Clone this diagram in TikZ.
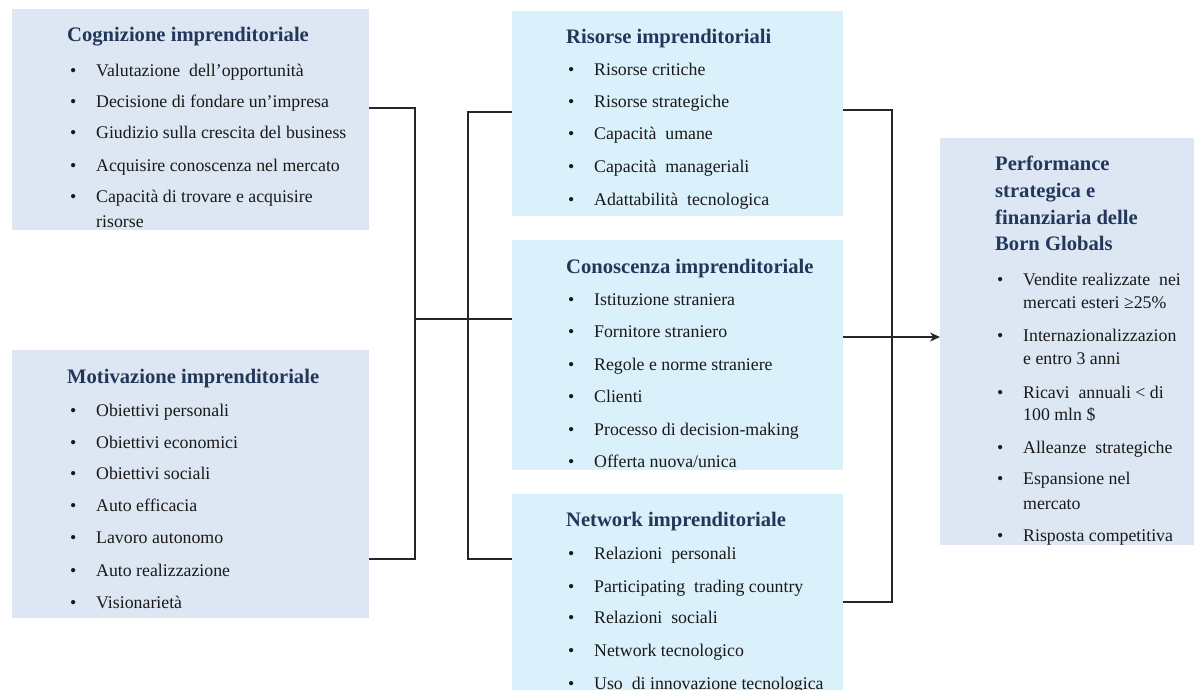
\documentclass[tikz,border=0pt]{standalone}
\usepackage{fontspec}
\setmainfont{Liberation Serif}
\usetikzlibrary{arrows.meta}
\definecolor{boxA}{HTML}{DCE7F3}
\definecolor{boxB}{HTML}{DAF0FA}
\definecolor{ttlc}{HTML}{23375A}
\newcommand\bul[1]{\makebox[26pt][l]{•}#1}
\tikzset{
  boxa/.style={fill=boxA, draw=none, anchor=north west, inner sep=0pt, outer sep=0pt},
  boxb/.style={fill=boxB, draw=none, anchor=north west, inner sep=0pt, outer sep=0pt},
  ttl/.style={anchor=base west, inner sep=0pt, font=\fontsize{20.6}{24}\selectfont\bfseries, text=ttlc},
  itm/.style={anchor=base west, inner sep=0pt, font=\fontsize{17.8}{21}\selectfont, text=black!90},
  conn/.style={line width=1.5pt, draw=black!85},
}
\begin{document}
\begin{tikzpicture}[x=1pt,y=-1pt]
\fill[white] (0,0) rectangle (1194,690);
\useasboundingbox (0,0) rectangle (1194,690);

% boxes
\node[boxa, minimum width=357, minimum height=221] (cog) at (12,9) {};
\node[boxa, minimum width=357, minimum height=268] (mot) at (12,350) {};
\node[boxb, minimum width=331, minimum height=205] (ris) at (512,11) {};
\node[boxb, minimum width=331, minimum height=230] (con) at (512,240) {};
\node[boxb, minimum width=331, minimum height=210] (net) at (512,494) {};
\node[boxa, minimum width=254, minimum height=407] (perf) at (940,138) {};

% Cognizione
\node[ttl] (cogt) at (67,42) {Cognizione imprenditoriale};
\node[itm] (cog1) at (70,76.5) {\bul{Valutazione\ \ dell’opportunità}};
\node[itm] (cog2) at (70,107.5) {\bul{Decisione di fondare un’impresa}};
\node[itm] (cog3) at (70,138.5) {\bul{Giudizio sulla crescita del business}};
\node[itm] (cog4) at (70,171.5) {\bul{Acquisire conoscenza nel mercato}};
\node[itm] (cog5) at (70,202.5) {\bul{Capacità di trovare e acquisire}};
\node[itm] (cog6) at (96,227.5) {risorse};

% Motivazione
\node[ttl] (mott) at (67,383) {Motivazione imprenditoriale};
\node[itm] (mot1) at (70,416) {\bul{Obiettivi personali}};
\node[itm] (mot2) at (70,448) {\bul{Obiettivi economici}};
\node[itm] (mot3) at (70,479) {\bul{Obiettivi sociali}};
\node[itm] (mot4) at (70,511) {\bul{Auto efficacia}};
\node[itm] (mot5) at (70,543) {\bul{Lavoro autonomo}};
\node[itm] (mot6) at (70,576) {\bul{Auto realizzazione}};
\node[itm] (mot7) at (70,608) {\bul{Visionarietà}};

% Risorse
\node[ttl] (rist) at (566,44) {Risorse imprenditoriali};
\node[itm] (ris1) at (568,76) {\bul{Risorse critiche}};
\node[itm] (ris2) at (568,108) {\bul{Risorse strategiche}};
\node[itm] (ris3) at (568,140) {\bul{Capacità\ \ umane}};
\node[itm] (ris4) at (568,172) {\bul{Capacità\ \ manageriali}};
\node[itm] (ris5) at (568,205) {\bul{Adattabilità\ \ tecnologica}};

% Conoscenza
\node[ttl] (cont) at (566,273) {Conoscenza imprenditoriale};
\node[itm] (con1) at (568,305) {\bul{Istituzione straniera}};
\node[itm] (con2) at (568,337) {\bul{Fornitore straniero}};
\node[itm] (con3) at (568,370) {\bul{Regole e norme straniere}};
\node[itm] (con4) at (568,402) {\bul{Clienti}};
\node[itm] (con5) at (568,435) {\bul{Processo di decision-making}};
\node[itm] (con6) at (568,467) {\bul{Offerta nuova/unica}};

% Network
\node[ttl] (nett) at (566,526) {Network imprenditoriale};
\node[itm] (net1) at (568,559) {\bul{Relazioni\ \ personali}};
\node[itm] (net2) at (568,592) {\bul{Participating\ \ trading country}};
\node[itm] (net3) at (568,623) {\bul{Relazioni\ \ sociali}};
\node[itm] (net4) at (568,656) {\bul{Network tecnologico}};
\node[itm] (net5) at (568,689) {\bul{Uso\ \ di innovazione tecnologica}};

% Performance
\node[ttl] (perft1) at (995,170) {Performance};
\node[ttl] (perft2) at (995,197) {strategica e};
\node[ttl] (perft3) at (995,224) {finanziaria delle};
\node[ttl] (perft4) at (995,250) {Born Globals};
\node[itm] (perf1) at (997,285) {\bul{Vendite realizzate\ \ nei}};
\node[itm] (perf1b) at (1023,308) {mercati esteri ≥25\%};
\node[itm] (perf2) at (997,341) {\bul{Internazionalizzazion}};
\node[itm] (perf2b) at (1023,364) {e entro 3 anni};
\node[itm] (perf3) at (997,398) {\bul{Ricavi\ \ annuali < di}};
\node[itm] (perf3b) at (1023,420) {100 mln \$};
\node[itm] (perf4) at (997,453) {\bul{Alleanze\ \ strategiche}};
\node[itm] (perf5) at (997,484) {\bul{Espansione nel}};
\node[itm] (perf5b) at (1023,509) {mercato};
\node[itm] (perf6) at (997,541) {\bul{Risposta competitiva}};

% connectors
\coordinate (L1) at (415,108);
\coordinate (L2) at (415,559);
\coordinate (J) at (415,319);
\coordinate (M1) at (468,112);
\coordinate (M2) at (468,559);
\coordinate (R1) at (892,110);
\coordinate (R2) at (892,602);
\coordinate (A) at (892,337);

\draw[conn] (cog.east |- L1) -- (L1) -- (L2) -- (mot.east |- L2);
\draw[conn] (ris.west |- M1) -- (M1) -- (M2) -- (net.west |- M2);
\draw[conn] (J) -- (con.west |- J);
\draw[conn] (ris.east |- R1) -- (R1) -- (R2) -- (net.east |- R2);
\draw[conn, -{Stealth[length=10pt,width=9pt]}] (con.east |- A) -- (perf.west |- A);
\end{tikzpicture}
\end{document}
